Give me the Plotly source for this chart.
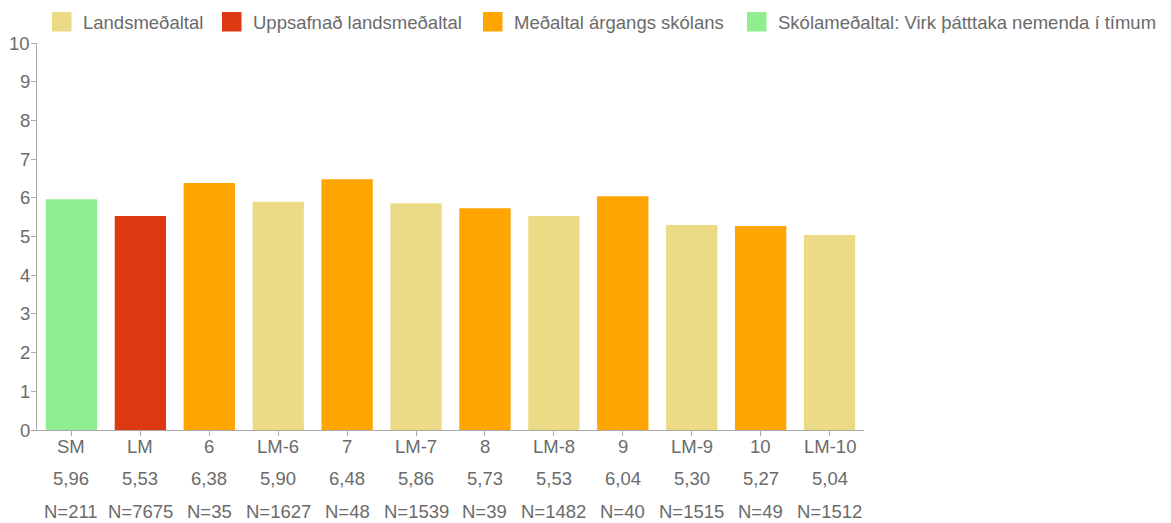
import plotly.graph_objects as go

# Chart data
categories = ["SM", "LM", "6", "LM-6", "7", "LM-7", "8", "LM-8", "9", "LM-9", "10", "LM-10"]
values = [5.96, 5.53, 6.38, 5.90, 6.48, 5.86, 5.73, 5.53, 6.04, 5.30, 5.27, 5.04]
counts = [211, 7675, 35, 1627, 48, 1539, 39, 1482, 40, 1515, 49, 1512]
groups = ["skoli", "uppsafnad", "argangur", "lands", "argangur", "lands",
          "argangur", "lands", "argangur", "lands", "argangur", "lands"]

group_labels = {
    "lands": "Landsmeðaltal",
    "uppsafnad": "Uppsafnað landsmeðaltal",
    "argangur": "Meðaltal árgangs skólans",
    "skoli": "Skólameðaltal: Virk þátttaka nemenda í tímum",
}
group_colors = {
    "lands": "#ECDB86",
    "uppsafnad": "#DC3912",
    "argangur": "#FFA500",
    "skoli": "#90EE90",
}
legend_order = ["lands", "uppsafnad", "argangur", "skoli"]

y_ticks = list(range(0, 11))

FONT = "Liberation Sans, Arial, sans-serif"
FS = 18.5
TXT = "#6b6b6b"
AXIS = "#aaaaaa"

W, H = 1171, 523
M_L, M_R, M_T, M_B = 37, 307, 42.5, 93
PW = W - M_L - M_R
PH = H - M_T - M_B


def px_x(p):
    return (p - M_L) / PW


def px_y(p):
    return (H - M_B - p) / PH


def label(**kw):
    base = dict(showarrow=False, font=dict(family=FONT, size=FS, color=TXT))
    base.update(kw)
    return base


fig = go.Figure()
idx = list(range(len(categories)))
fig.add_trace(go.Bar(
    x=idx,
    y=values,
    marker=dict(color=[group_colors[g] for g in groups], line=dict(width=0)),
    width=0.745,
    showlegend=False,
    customdata=categories,
    hovertemplate="%{customdata}: %{y}<extra></extra>",
))

annotations = []
# category, value and N rows under the x axis
for i, (cat, v, n) in enumerate(zip(categories, values, counts)):
    annotations.append(label(x=i, xref="x", y=0, yref="paper", yshift=-16.5,
                             text=cat, xanchor="center", yanchor="middle"))
    annotations.append(label(x=i, xref="x", y=0, yref="paper", yshift=-48.5,
                             text=f"{v:.2f}".replace(".", ","),
                             xanchor="center", yanchor="middle"))
    annotations.append(label(x=i, xref="x", y=0, yref="paper", yshift=-81.5,
                             text=f"N={n}", xanchor="center", yanchor="middle"))

# y tick labels
for t in y_ticks:
    annotations.append(label(x=px_x(32), xref="paper", y=t, yref="y",
                             text=str(t), xanchor="right", yanchor="middle"))

# legend row across the top
shapes = []
legend_left = [52, 222, 483, 747]
SQ = 19.5
for g, left in zip(legend_order, legend_left):
    shapes.append(dict(
        type="rect", xref="paper", yref="paper",
        x0=px_x(left), x1=px_x(left + SQ),
        y0=px_y(11.5 + SQ), y1=px_y(11.5),
        fillcolor=group_colors[g], line=dict(width=0),
    ))
    annotations.append(label(x=px_x(left + 29), xref="paper", y=px_y(21.5), yref="paper",
                             text=group_labels[g], xanchor="left", yanchor="middle"))

fig.update_layout(
    width=W, height=H,
    margin=dict(l=M_L, r=M_R, t=M_T, b=M_B, pad=0, autoexpand=False),
    paper_bgcolor="white", plot_bgcolor="white",
    showlegend=False,
    font=dict(family=FONT, size=FS, color=TXT),
    annotations=annotations,
    shapes=shapes,
    xaxis=dict(
        automargin=False,
        tickvals=idx, showticklabels=False,
        showgrid=False, zeroline=False,
        showline=True, linecolor=AXIS, linewidth=1,
        ticks="outside", ticklen=5, tickcolor=AXIS,
        range=[-0.5, len(categories) - 0.5],
    ),
    yaxis=dict(
        automargin=False,
        range=[0, 10],
        tickvals=y_ticks, showticklabels=False,
        showgrid=False, zeroline=False,
        showline=True, linecolor=AXIS, linewidth=1,
        ticks="outside", ticklen=5, tickcolor=AXIS,
    ),
)

fig.write_html("out.html")
